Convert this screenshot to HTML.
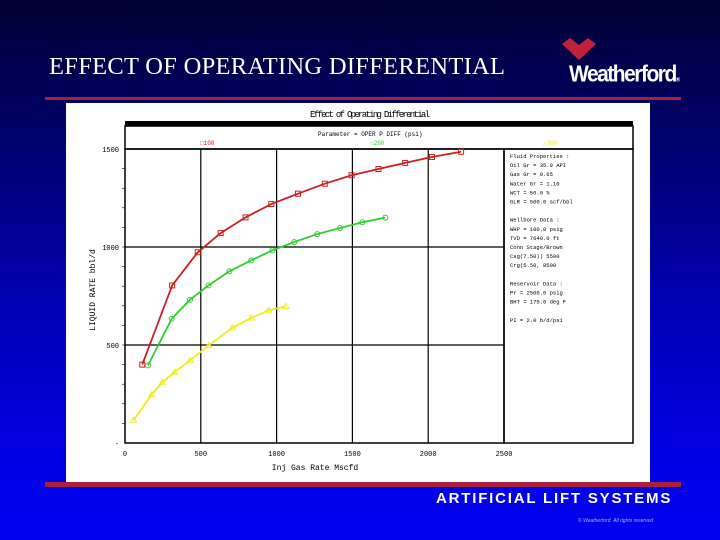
<!DOCTYPE html>
<html><head><meta charset="utf-8"><style>
body{margin:0}
#s{position:relative;width:720px;height:540px;overflow:hidden;background:linear-gradient(#000033 0%,#00006a 25%,#0000b0 55%,#0000e6 85%,#0000f0 100%);font-family:"Liberation Sans",sans-serif}
</style></head><body>
<div id="s">
<div style="position:absolute;left:49px;top:53px;color:#fff;font:24.5px 'Liberation Serif',serif;letter-spacing:0.3px">EFFECT OF OPERATING DIFFERENTIAL</div>
<svg style="position:absolute;left:562px;top:38px" width="34" height="22"><path d="M0 6 L8 0 L17 7 L26 0 L34 6 L17 22 Z" fill="#c0203a"/></svg>
<div style="position:absolute;left:569px;top:63px;color:#fff;font:bold 21px 'Liberation Sans',sans-serif;letter-spacing:-1.5px;transform:scaleY(1.1)">Weatherford<span style="font-size:6px">®</span></div>
<div style="position:absolute;left:45px;top:97px;width:636px;height:3px;background:#a8203c"></div>
<div style="position:absolute;left:66px;top:103px;width:584px;height:379px;background:#fff"></div>
<div style="position:absolute;left:45px;top:482px;width:636px;height:5px;background:#a8203c"></div>
<div style="position:absolute;left:436px;top:490px;color:#fff;font:bold 15px 'Liberation Sans',sans-serif;letter-spacing:1.8px">ARTIFICIAL LIFT SYSTEMS</div>
<div style="position:absolute;left:578px;top:518px;color:#aab4ff;font:italic 5px 'Liberation Sans',sans-serif">© Weatherford. All rights reserved</div>
<svg id="c" style="position:absolute;left:0;top:0" width="720" height="540"></svg>
</div>
<script>
const xTicks=[0,500,1000,1500,2000,2500];
const yTicks=[0,500,1000,1500];
const yTickLabels=["-","500","1000","1500"];
const seriesNames=["100","200","300"];
const redX=[114,311,480,631,795,965,1141,1318,1495,1672,1848,2025,2217];
const redY=[400,804,973,1071,1151,1219,1272,1323,1366,1398,1429,1459,1486];
const greenX=[152,308,429,551,689,833,972,1116,1268,1419,1566,1717];
const greenY=[396,634,731,804,876,932,983,1025,1066,1097,1126,1150];
const yellowX=[56,177,247,328,429,551,707,833,947,1061];
const yellowY=[116,247,310,361,422,497,587,638,677,697];
const infoLines=["Fluid Properties :","Oil Gr =   35.0 API","Gas Gr =   0.65","Water Gr =   1.10","WCT =   50.0 %","GLR =  500.0 scf/bbl","","Wellbore Data :","WHP =  100.0 psig","TVD = 7640.0 ft","Conn Stage/Brown","Csg(7.50)) 5500","Crg(5.50, 8500","","Reservoir Data :","Pr = 2500.0 psig","BHT =  175.0 deg F","","PI =    2.0 b/d/psi"];
const svg=document.getElementById('c');const NS='http://www.w3.org/2000/svg';
const X0=125,X1=504,Y0=443,Y1=149;
const sx=v=>X0+v/2500*(X1-X0), sy=v=>Y0-v/1500*(Y0-Y1);
function mk(t,a,p){const e=document.createElementNS(NS,t);for(const k in a)e.setAttribute(k,a[k]);(p||svg).appendChild(e);return e;}
const F="font-family:'Liberation Mono',monospace";
let e=mk('text',{x:310,y:117,'font-size':9,style:F,'textLength':120});e.textContent="Effect of Operating Differential";


mk('rect',{x:125,y:121,width:508,height:5,fill:'#000'});
mk('rect',{x:125,y:126,width:508,height:23,fill:'none',stroke:'#000','stroke-width':1.5});
e=mk('text',{x:318,y:136,'font-size':6,style:F});e.textContent="Parameter = OPER P DIFF (psi)";


e=mk('rect',{x:X0,y:Y1,width:X1-X0,height:Y0-Y1,fill:'none',stroke:'#000','stroke-width':1.5});


mk('rect',{x:X1,y:Y1,width:129,height:Y0-Y1,fill:'none',stroke:'#000','stroke-width':1.5});
xTicks.forEach(v=>{if(v>0&&v<2500)mk('line',{x1:sx(v),x2:sx(v),y1:Y1,y2:Y0,stroke:'#000','stroke-width':1.2});
 const t=mk('text',{x:sx(v),y:456,'font-size':7,'text-anchor':'middle',style:F});t.textContent=v;
 
 });
yTicks.forEach((v,i)=>{if(v>0&&v<1500)mk('line',{x1:X0,x2:X1,y1:sy(v),y2:sy(v),stroke:'#000','stroke-width':1.2});
 const t=mk('text',{x:119,y:sy(v)+3,'font-size':7,'text-anchor':'end',style:F});t.textContent=yTickLabels[i];
 
 });
for(let v=100;v<1500;v+=100)mk('line',{x1:X0-3,x2:X0,y1:sy(v),y2:sy(v),stroke:'#000','stroke-width':0.6});
e=mk('text',{x:315,y:470,'font-size':8,'text-anchor':'middle',style:F});e.textContent="Inj Gas Rate Mscfd";


e=mk('text',{x:0,y:0,'font-size':8,'text-anchor':'middle',style:F,transform:'translate(95,290) rotate(-90)'});e.textContent="LIQUID RATE bbl/d";


infoLines.forEach((s,i)=>{const t=mk('text',{x:510,y:158+i*9.1,'font-size':5.5,style:F});t.textContent=s;
 
 });
const series=[[redX,redY,'#cc2020'],[greenX,greenY,'#33cc33'],[yellowX,yellowY,'#eeee22']];
const legX=[200,370,543];
series.forEach((s,k)=>{
 const [xs,ys,col]=s;
 const pts=xs.map((x,i)=>sx(x)+','+sy(ys[i])).join(' ');
 const l=mk('polyline',{points:pts,fill:'none',stroke:col,'stroke-width':1.8});
 
 
 xs.forEach((x,i)=>{const cx=sx(x),cy=sy(ys[i]);let m;
  if(k==0)m=mk('rect',{x:cx-2.5,y:cy-2.5,width:5,height:5,fill:'none',stroke:col});
  else if(k==1)m=mk('circle',{cx,cy,r:2.5,fill:'none',stroke:col});
  else m=mk('path',{d:`M${cx-3} ${cy+2}L${cx} ${cy-3}L${cx+3} ${cy+2}Z`,fill:'none',stroke:col});
  
  });
 const g=mk('text',{x:legX[k],y:145,'font-size':6,fill:col,style:F});g.textContent=(k==0?'□':k==1?'○':'△')+seriesNames[k];
 
 
});
</script>
</body></html>
